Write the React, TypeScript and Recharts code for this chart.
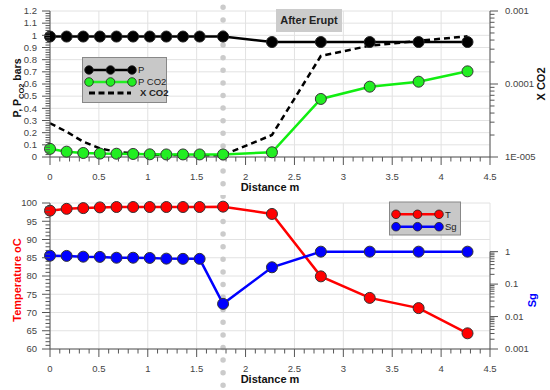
import React from "react";
import { LineChart, Line, XAxis, YAxis, CartesianGrid, ReferenceLine, Label } from "recharts";

// distance along the column (m), shared by both panels
const distance = [0, 0.17, 0.34, 0.51, 0.68, 0.85, 1.02, 1.19, 1.36, 1.53, 1.77, 2.27, 2.77, 3.27, 3.77, 4.27];

// top panel
const pressure = [0.99, 0.99, 0.99, 0.99, 0.99, 0.99, 0.99, 0.99, 0.99, 0.99, 0.99, 0.945, 0.945, 0.945, 0.945, 0.945];
const pCO2 = [0.067, 0.044, 0.033, 0.028, 0.027, 0.025, 0.022, 0.021, 0.021, 0.021, 0.021, 0.039, 0.477, 0.578, 0.619, 0.704];
const xCO2 = [2.9e-5, 2.22e-5, 1.62e-5, 1.31e-5, 1.18e-5, 1.12e-5, 1.08e-5, 1.07e-5, 1.06e-5, 1.06e-5, 1.06e-5, 2.0e-5, 2.42e-4, 3.35e-4, 3.9e-4, 4.5e-4];

// bottom panel
const temperature = [97.9, 98.4, 98.6, 98.8, 98.9, 98.9, 98.9, 98.9, 98.9, 98.9, 99.0, 97.0, 79.9, 74.0, 71.2, 64.3];
const sg = [0.75, 0.74, 0.7, 0.69, 0.65, 0.65, 0.64, 0.61, 0.6, 0.6, 0.0246, 0.33, 1, 1, 1, 1];

const eruptAt = 1.77;

const xMajor = [0, 0.5, 1, 1.5, 2, 2.5, 3, 3.5, 4, 4.5];
const pMajor = [0, 0.1, 0.2, 0.3, 0.4, 0.5, 0.6, 0.7, 0.8, 0.9, 1, 1.1, 1.2];
const tMajor = [60, 65, 70, 75, 80, 85, 90, 95, 100];
const xco2Major = [1e-5, 1e-4, 1e-3];
const xco2Labels = ["1E-005", "0.0001", "0.001"];
const sgMajor = [0.001, 0.01, 0.1, 1];
const sgLabels = ["0.001", "0.01", "0.1", "1"];

const FONT = "'Liberation Sans', Arial, sans-serif";
const AXIS = "#555";
const PANEL_H = 195;
const DOT_GAP = 12.6;

function subdivide(majors: number[], parts: number) {
  const out: number[] = [];
  for (let i = 0; i < majors.length - 1; i++) {
    for (let k = 0; k < parts; k++) {
      out.push(+(majors[i] + ((majors[i + 1] - majors[i]) * k) / parts).toFixed(6));
    }
  }
  out.push(majors[majors.length - 1]);
  return out;
}

function logMinor(majors: number[]) {
  const out: number[] = [];
  for (let i = 0; i < majors.length - 1; i++) {
    for (let k = 1; k < 10; k++) out.push(+(majors[i] * k).toPrecision(3));
  }
  out.push(majors[majors.length - 1]);
  return out;
}

const isMajor = (majors: number[], v: number) =>
  majors.findIndex((m) => Math.abs(m - v) <= 1e-6 * Math.max(Math.abs(m), 1e-9));

function makeTick(side: "left" | "right" | "bottom", majors: number[], labels?: string[]) {
  return (props: any) => {
    const { x, y, payload } = props;
    const idx = isMajor(majors, payload.value);
    const len = idx >= 0 ? 8 : 4.5;
    const text = idx >= 0 ? (labels ? labels[idx] : String(payload.value)) : null;
    if (side === "left") {
      return (
        <g>
          <line x1={x} x2={x - len} y1={y} y2={y} stroke={AXIS} />
          {text && (
            <text x={x - 13} y={y} dy="0.35em" textAnchor="end" fontSize={9.5} fill="#444" fontFamily={FONT}>
              {text}
            </text>
          )}
        </g>
      );
    }
    if (side === "right") {
      return (
        <g>
          <line x1={x} x2={x + len} y1={y} y2={y} stroke={AXIS} />
          {text && (
            <text x={x + 15} y={y} dy="0.35em" textAnchor="start" fontSize={9.5} fill="#444" fontFamily={FONT}>
              {text}
            </text>
          )}
        </g>
      );
    }
    return (
      <g>
        <line x1={x} x2={x} y1={y} y2={y + len} stroke={AXIS} />
        {text && (
          <text x={x} y={y + 20} dy="0.35em" textAnchor="middle" fontSize={9.5} fill="#444" fontFamily={FONT}>
            {text}
          </text>
        )}
      </g>
    );
  };
}

const eruptLine = (offset: number) => (props: any) => (
  <line
    x1={props.x1}
    x2={props.x2}
    y1={0}
    y2={PANEL_H}
    stroke="#cbcbcb"
    strokeWidth={5.5}
    strokeLinecap="round"
    strokeDasharray={`0 ${DOT_GAP}`}
    strokeDashoffset={offset}
  />
);

const rotatedLabel = (cx: number, cyFn: (vb: any) => number, color: string, children: React.ReactNode) =>
  (props: any) => {
    const cy = cyFn(props.viewBox);
    return (
      <text
        x={cx}
        y={cy}
        dy="0.35em"
        textAnchor="middle"
        transform={`rotate(-90, ${cx}, ${cy})`}
        fontSize={11}
        fontWeight="bold"
        fill={color}
        fontFamily={FONT}
      >
        {children}
      </text>
    );
  };

const distLabel = (props: any) => {
  const vb = props.viewBox;
  return (
    <text x={vb.x + vb.width / 2} y={vb.y + 34} textAnchor="middle" fontSize={11} fontWeight="bold" fill="#111" fontFamily={FONT}>
      Distance m
    </text>
  );
};

const topData = distance.map((d, i) => ({ d, p: pressure[i], pco2: pCO2[i], xco2: xCO2[i] }));
const bottomData = distance.map((d, i) => ({ d, t: temperature[i], sg: sg[i] }));

function LegendRow({ y, x0, x1, color, dashed, label, bold }: any) {
  const xm = (x0 + x1) / 2;
  return (
    <g>
      {dashed ? (
        <line x1={x0} x2={x1 - 3} y1={y} y2={y} stroke="#000" strokeWidth={3} strokeDasharray="6 3.5" />
      ) : (
        <>
          <line x1={x0} x2={x1} y1={y} y2={y} stroke={color} strokeWidth={2.5} />
          {[x0, xm, x1].map((cx) => (
            <circle key={cx} cx={cx} cy={y} r={4.3} fill={color} stroke="#222" strokeWidth={0.8} />
          ))}
        </>
      )}
      <text x={x1 + 6} y={y} dy="0.35em" fontSize={9.5} fontWeight={bold ? "bold" : "normal"} fill="#222" fontFamily={FONT}>
        {label}
      </text>
    </g>
  );
}

export default function App() {
  const pTicks = subdivide(pMajor, 5);
  const xTicks = subdivide(xMajor, 5);
  const tTicks = subdivide(tMajor, 5);
  const bottomPhase = ((7.3 - PANEL_H) % DOT_GAP + DOT_GAP) % DOT_GAP;
  const sgTop = 31.6;
  return (
    <div style={{ position: "absolute", left: 0, top: 0, width: 550, height: 390, background: "#fff", fontFamily: FONT }}>
      <div style={{ position: "absolute", left: 0, top: 0 }}>
        <LineChart width={550} height={PANEL_H} data={topData} margin={{ top: 11, right: 59, bottom: 37, left: 49 }}>
          <CartesianGrid stroke="#e2e2e2" horizontalValues={pMajor} verticalValues={xMajor} />
          <XAxis
            dataKey="d"
            type="number"
            domain={[0, 4.5]}
            ticks={xTicks}
            interval={0}
            height={1}
            tickSize={0}
            tickMargin={0}
            tickLine={false}
            tick={makeTick("bottom", xMajor)}
            stroke={AXIS}
          >
            <Label content={distLabel} />
          </XAxis>
          <YAxis
            domain={[0, 1.2]}
            ticks={pTicks}
            interval={0}
            width={1}
            tickSize={0}
            tickMargin={0}
            tickLine={false}
            tick={makeTick("left", pMajor)}
            stroke={AXIS}
          >
            <Label
              content={(props: any) => {
                const vb = props.viewBox;
                const cy = vb.y + vb.height / 2 + 4;
                return (
                  <text x={17} y={cy} dy="0.35em" textAnchor="middle" transform={`rotate(-90, 17, ${cy})`} fontSize={10.5} fontWeight="bold" fill="#111" fontFamily={FONT}>
                    P, P
                    <tspan fontSize={7.5} dy="3">CO2</tspan>
                    <tspan dy="-3"> bars</tspan>
                  </text>
                );
              }}
            />
          </YAxis>
          <YAxis
            yAxisId="right"
            orientation="right"
            scale="log"
            domain={[1e-5, 1e-3]}
            allowDataOverflow
            ticks={logMinor(xco2Major)}
            interval={0}
            width={1}
            tickSize={0}
            tickMargin={0}
            tickLine={false}
            tick={makeTick("right", xco2Major, xco2Labels)}
            stroke={AXIS}
          >
            <Label content={rotatedLabel(541, (vb) => vb.y + vb.height / 2, "#111", "X CO2")} />
          </YAxis>
          <ReferenceLine x={eruptAt} shape={eruptLine(DOT_GAP - 7.3)} />
          <Line dataKey="xco2" yAxisId="right" stroke="#000" strokeWidth={2.5} strokeDasharray="6 4" dot={false} isAnimationActive={false} />
          <Line dataKey="p" stroke="#000" strokeWidth={2.5} dot={{ r: 5.5, fill: "#000", stroke: "#222", strokeWidth: 1 }} isAnimationActive={false} />
          <Line dataKey="pco2" stroke="#11ee11" strokeWidth={2.5} dot={{ r: 5.5, fill: "#22ee22", stroke: "#333", strokeWidth: 1 }} isAnimationActive={false} />
        </LineChart>
      </div>

      <div style={{ position: "absolute", left: 0, top: PANEL_H }}>
        <LineChart width={550} height={PANEL_H} data={bottomData} margin={{ top: 8, right: 59, bottom: 40, left: 49 }}>
          <CartesianGrid stroke="#e2e2e2" horizontalValues={tMajor} verticalValues={xMajor} />
          <XAxis
            dataKey="d"
            type="number"
            domain={[0, 4.5]}
            ticks={xTicks}
            interval={0}
            height={1}
            tickSize={0}
            tickMargin={0}
            tickLine={false}
            tick={makeTick("bottom", xMajor)}
            stroke={AXIS}
          >
            <Label content={distLabel} />
          </XAxis>
          <YAxis
            domain={[60, 100]}
            ticks={tTicks}
            interval={0}
            width={1}
            tickSize={0}
            tickMargin={0}
            tickLine={false}
            tick={makeTick("left", tMajor)}
            stroke={AXIS}
          >
            <Label content={rotatedLabel(17.5, (vb) => vb.y + vb.height / 2 + 4, "#ff0000", "Temperature oC")} />
          </YAxis>
          <YAxis
            yAxisId="sg"
            orientation="right"
            scale="log"
            domain={[0.001, sgTop]}
            allowDataOverflow
            ticks={logMinor(sgMajor)}
            interval={0}
            width={1}
            axisLine={false}
            tickSize={0}
            tickMargin={0}
            tickLine={false}
            tick={makeTick("right", sgMajor, sgLabels)}
            stroke={AXIS}
          >
            <Label
              content={rotatedLabel(532, (vb) => vb.y + vb.height * (1 - 1.5 / Math.log10(sgTop / 0.001)), "#0000ff", "Sg")}
            />
          </YAxis>
          <ReferenceLine
            yAxisId="sg"
            segment={[{ x: 4.5, y: 0.001 }, { x: 4.5, y: 1 }]}
            stroke={AXIS}
            ifOverflow="visible"
          />
          <ReferenceLine x={eruptAt} yAxisId="sg" shape={eruptLine(DOT_GAP - bottomPhase)} />
          <Line dataKey="t" stroke="#ff0000" strokeWidth={2.5} dot={{ r: 5.5, fill: "#ff0000", stroke: "#333", strokeWidth: 1 }} isAnimationActive={false} />
          <Line dataKey="sg" yAxisId="sg" stroke="#0000ff" strokeWidth={2.5} dot={{ r: 5.5, fill: "#0000ff", stroke: "#333", strokeWidth: 1 }} isAnimationActive={false} />
        </LineChart>
      </div>

      <svg width={550} height={390} style={{ position: "absolute", left: 0, top: 0, pointerEvents: "none" }}>
        <rect x={276} y={9} width={66} height={23} fill="#cccccc" />
        <text x={309} y={20.5} dy="0.35em" textAnchor="middle" fontSize={11} fontWeight="bold" fill="#222" fontFamily={FONT}>
          After Erupt
        </text>

        <rect x={82.5} y={57.5} width={84} height={45} fill="#c8c8c8" stroke="#888" />
        <LegendRow y={70} x0={89} x1={132} color="#000" label="P" />
        <LegendRow y={82} x0={89} x1={132} color="#22ee22" label="P CO2" />
        <LegendRow y={93} x0={89} x1={134} dashed label="X CO2" bold />

        <rect x={389.5} y={202} width={71} height={33} fill="#c8c8c8" stroke="#888" />
        <LegendRow y={214.3} x0={396} x1={439} color="#ff0000" label="T" />
        <LegendRow y={226.7} x0={396} x1={439} color="#0000ff" label="Sg" />
      </svg>
    </div>
  );
}
